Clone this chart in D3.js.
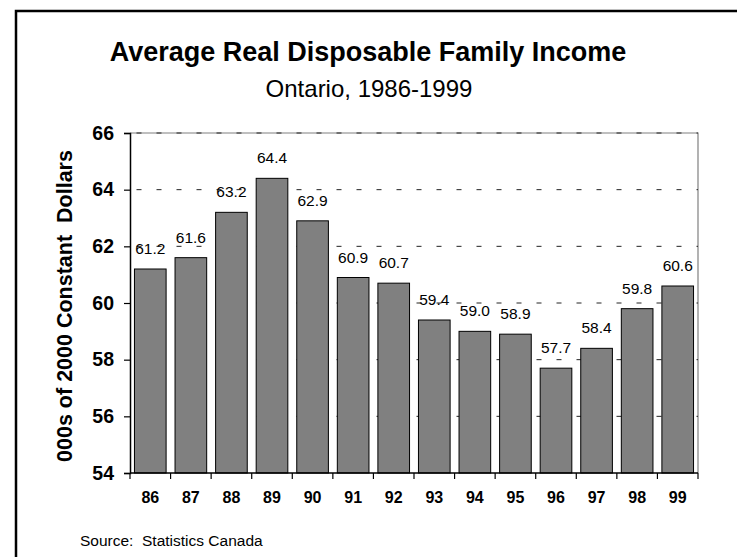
<!DOCTYPE html>
<html>
<head>
<meta charset="utf-8">
<script src="https://cdn.jsdelivr.net/npm/d3@7/dist/d3.min.js"></script>
<style>
  html, body { margin: 0; padding: 0; background: #fff; }
  svg { display: block; font-family: "Liberation Sans", Arial, Helvetica, sans-serif; }
</style>
</head>
<body>
<svg id="chart" width="737" height="557"></svg>
<script>
// Average real disposable family income, Ontario (000s of 2000 dollars)
const years = ["86", "87", "88", "89", "90", "91", "92", "93", "94", "95", "96", "97", "98", "99"];
const income = [61.2, 61.6, 63.2, 64.4, 62.9, 60.9, 60.7, 59.4, 59.0, 58.9, 57.7, 58.4, 59.8, 60.6];
const yTicks = [54, 56, 58, 60, 62, 64, 66];
const gridValues = [56, 58, 60, 62, 64, 66];

const svg = d3.select("#chart");
const plot = { left: 130, right: 698, top: 133, bottom: 473 };

const x = d3.scaleBand()
  .domain(years)
  .range([plot.left, plot.right])
  .paddingInner(0.22)
  .paddingOuter(0.11);

const y = d3.scaleLinear()
  .domain([54, 66])
  .range([plot.bottom, plot.top]);

// outer frame (open at right and bottom)
svg.append("path")
  .attr("d", `M16,${557} V11 H737`)
  .attr("fill", "none")
  .attr("stroke", "#000")
  .attr("stroke-width", 2.5);

// titles
svg.append("text")
  .attr("x", 368).attr("y", 61)
  .attr("text-anchor", "middle")
  .attr("font-size", 27).attr("font-weight", "bold")
  .text("Average Real Disposable Family Income");
svg.append("text")
  .attr("x", 369).attr("y", 97)
  .attr("text-anchor", "middle")
  .attr("font-size", 24)
  .text("Ontario, 1986-1999");

// plot frame: grey top and right edges
svg.append("path")
  .attr("d", `M${plot.left},${plot.top} H${plot.right} V${plot.bottom}`)
  .attr("fill", "none")
  .attr("stroke", "#808080")
  .attr("stroke-width", 1.2);

// dashed gridlines
svg.append("g")
  .selectAll("line")
  .data(gridValues)
  .join("line")
  .attr("x1", plot.left).attr("x2", plot.right)
  .attr("y1", d => y(d)).attr("y2", d => y(d))
  .attr("stroke", "#222")
  .attr("stroke-width", 1)
  .attr("stroke-dasharray", "5,15")
  .attr("stroke-dashoffset", -6.5);

// bars
svg.append("g")
  .selectAll("rect")
  .data(income)
  .join("rect")
  .attr("x", (d, i) => x(years[i]))
  .attr("y", d => y(d))
  .attr("width", x.bandwidth())
  .attr("height", d => y(54) - y(d))
  .attr("fill", "#808080")
  .attr("stroke", "#000")
  .attr("stroke-width", 1);

// value labels
svg.append("g")
  .selectAll("text")
  .data(income)
  .join("text")
  .attr("x", (d, i) => x(years[i]) + x.bandwidth() / 2)
  .attr("y", d => y(d) - 15)
  .attr("text-anchor", "middle")
  .attr("font-size", 15.5)
  .text(d => d.toFixed(1));

// y axis
const yAxis = svg.append("g")
  .attr("transform", `translate(${plot.left},0)`)
  .call(d3.axisLeft(y).tickValues(yTicks).tickSize(6).tickPadding(10).tickFormat(d3.format("d")));
yAxis.select(".domain").attr("stroke", "#000").attr("stroke-width", 1.5);
yAxis.selectAll(".tick line").attr("stroke", "#000").attr("stroke-width", 1.2);
yAxis.selectAll(".tick text")
  .attr("font-family", "Liberation Sans, Arial, sans-serif")
  .attr("font-size", 19.5).attr("font-weight", "bold").attr("fill", "#000");

// x axis: ticks at category boundaries
const xAxis = svg.append("g")
  .attr("transform", `translate(0,${plot.bottom})`);
xAxis.append("line")
  .attr("x1", plot.left).attr("x2", plot.right)
  .attr("stroke", "#000").attr("stroke-width", 1.5);
const step = x.step();
xAxis.selectAll("line.tk")
  .data(d3.range(years.length + 1))
  .join("line")
  .attr("class", "tk")
  .attr("x1", i => plot.left + i * step).attr("x2", i => plot.left + i * step)
  .attr("y1", 0).attr("y2", 6)
  .attr("stroke", "#000").attr("stroke-width", 1.2);
xAxis.selectAll("text")
  .data(years)
  .join("text")
  .attr("x", d => x(d) + x.bandwidth() / 2)
  .attr("y", 30)
  .attr("text-anchor", "middle")
  .attr("font-size", 16).attr("font-weight", "bold")
  .text(d => d);

// y axis title
svg.append("text")
  .attr("transform", `translate(72,${(plot.top + plot.bottom) / 2 + 3}) rotate(-90)`)
  .attr("text-anchor", "middle")
  .attr("font-size", 21.5).attr("font-weight", "bold")
  .attr("xml:space", "preserve")
  .text("000s of 2000 Constant  Dollars");

// source note
svg.append("text")
  .attr("x", 80).attr("y", 546)
  .attr("font-size", 15.5)
  .attr("xml:space", "preserve")
  .text("Source:  Statistics Canada");
</script>
</body>
</html>
